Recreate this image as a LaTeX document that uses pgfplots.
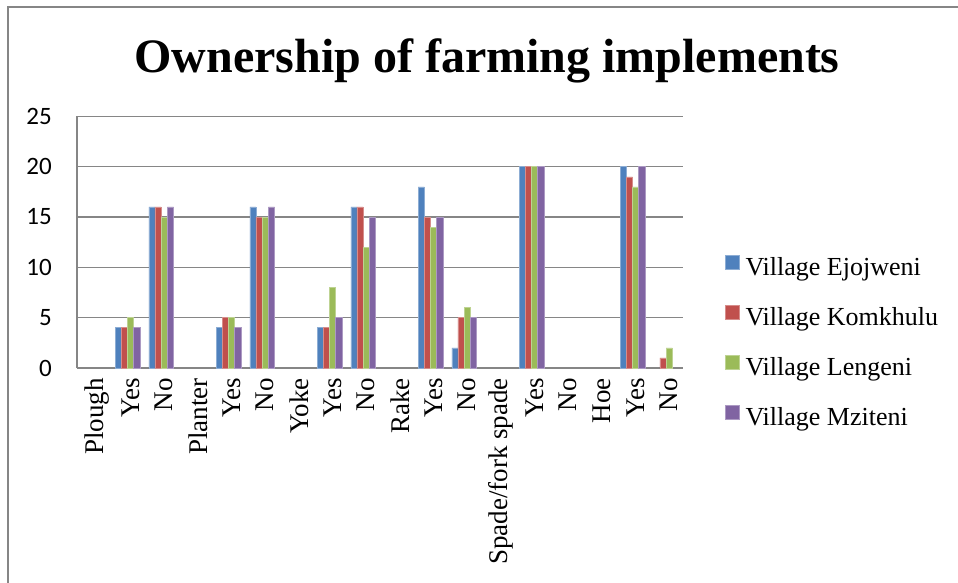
\documentclass[border=0pt]{standalone}
\usepackage{pgfplots}
\pgfplotsset{compat=1.18}
\usepackage{fontspec}
\setmainfont{Liberation Serif}
\setsansfont{Carlito}
\definecolor{cA}{HTML}{4F81BD}
\definecolor{cB}{HTML}{C0504D}
\definecolor{cC}{HTML}{9BBB59}
\definecolor{cD}{HTML}{8064A2}
\definecolor{gridgray}{HTML}{868686}
\begin{document}
\begin{tikzpicture}[x=1pt,y=1pt]
\path[use as bounding box] (-77,-215) rectangle (881,368);
\draw[color=gridgray, line width=1.3pt] (-69,-216) -- (-69,361) -- (882,361);
\node[font=\fontsize{48}{56}\selectfont\bfseries, anchor=base] at (410,295) {Ownership of farming implements};
\begin{axis}[
  at={(0,0)}, anchor=south west,
  scale only axis, width=606pt, height=251.6pt,
  xmin=-0.5, xmax=17.5, ymin=0, ymax=25,
  enlarge x limits=false,
  ybar=0pt, bar width=6.2pt,
  axis lines*=left,
  axis line style={draw=gridgray, line width=1.3pt, -},
  ymajorgrids, major grid style={draw=gridgray, line width=1.3pt},
  ytick={0,5,10,15,20,25},
  major tick length=0pt,
  xtick={0,...,17},
  xticklabels={Plough,Yes,No,Planter,Yes,No,Yoke,Yes,No,Rake,Yes,No,Spade/fork spade,Yes,No,Hoe,Yes,No},
  xticklabel style={yshift=-10pt, xshift=3pt, rotate=90, anchor=east, inner sep=0pt, font=\fontsize{27}{30}\selectfont},
  yticklabel style={font=\sffamily\fontsize{25}{30}\selectfont, anchor=east, inner sep=0pt, xshift=-25pt},
  /pgf/number format/assume math mode=true,
  legend style={at={(1.069,0.109)}, anchor=west, draw=none, fill=none, inner sep=0pt,
    font=\fontsize{26}{30}\selectfont, row sep=28pt, nodes={inner sep=0pt}},
  legend cell align=left,
  legend image code/.code={\fill[#1] (0pt,-2pt) rectangle (14pt,12pt); \path (20pt,0pt);},
]
\addplot[fill=cA, draw=cA!65!white, line width=0.5pt] coordinates {(1,4)(2,16)(4,4)(5,16)(7,4)(8,16)(10,18)(11,2)(13,20)(16,20)};
\addplot[fill=cB, draw=cB!65!white, line width=0.5pt] coordinates {(1,4)(2,16)(4,5)(5,15)(7,4)(8,16)(10,15)(11,5)(13,20)(16,19)(17,1)};
\addplot[fill=cC, draw=cC!65!white, line width=0.5pt] coordinates {(1,5)(2,15)(4,5)(5,15)(7,8)(8,12)(10,14)(11,6)(13,20)(16,18)(17,2)};
\addplot[fill=cD, draw=cD!65!white, line width=0.5pt] coordinates {(1,4)(2,16)(4,4)(5,16)(7,5)(8,15)(10,15)(11,5)(13,20)(16,20)};
\legend{Village Ejojweni,Village Komkhulu,Village Lengeni,Village Mziteni}
\end{axis}
\end{tikzpicture}
\end{document}
